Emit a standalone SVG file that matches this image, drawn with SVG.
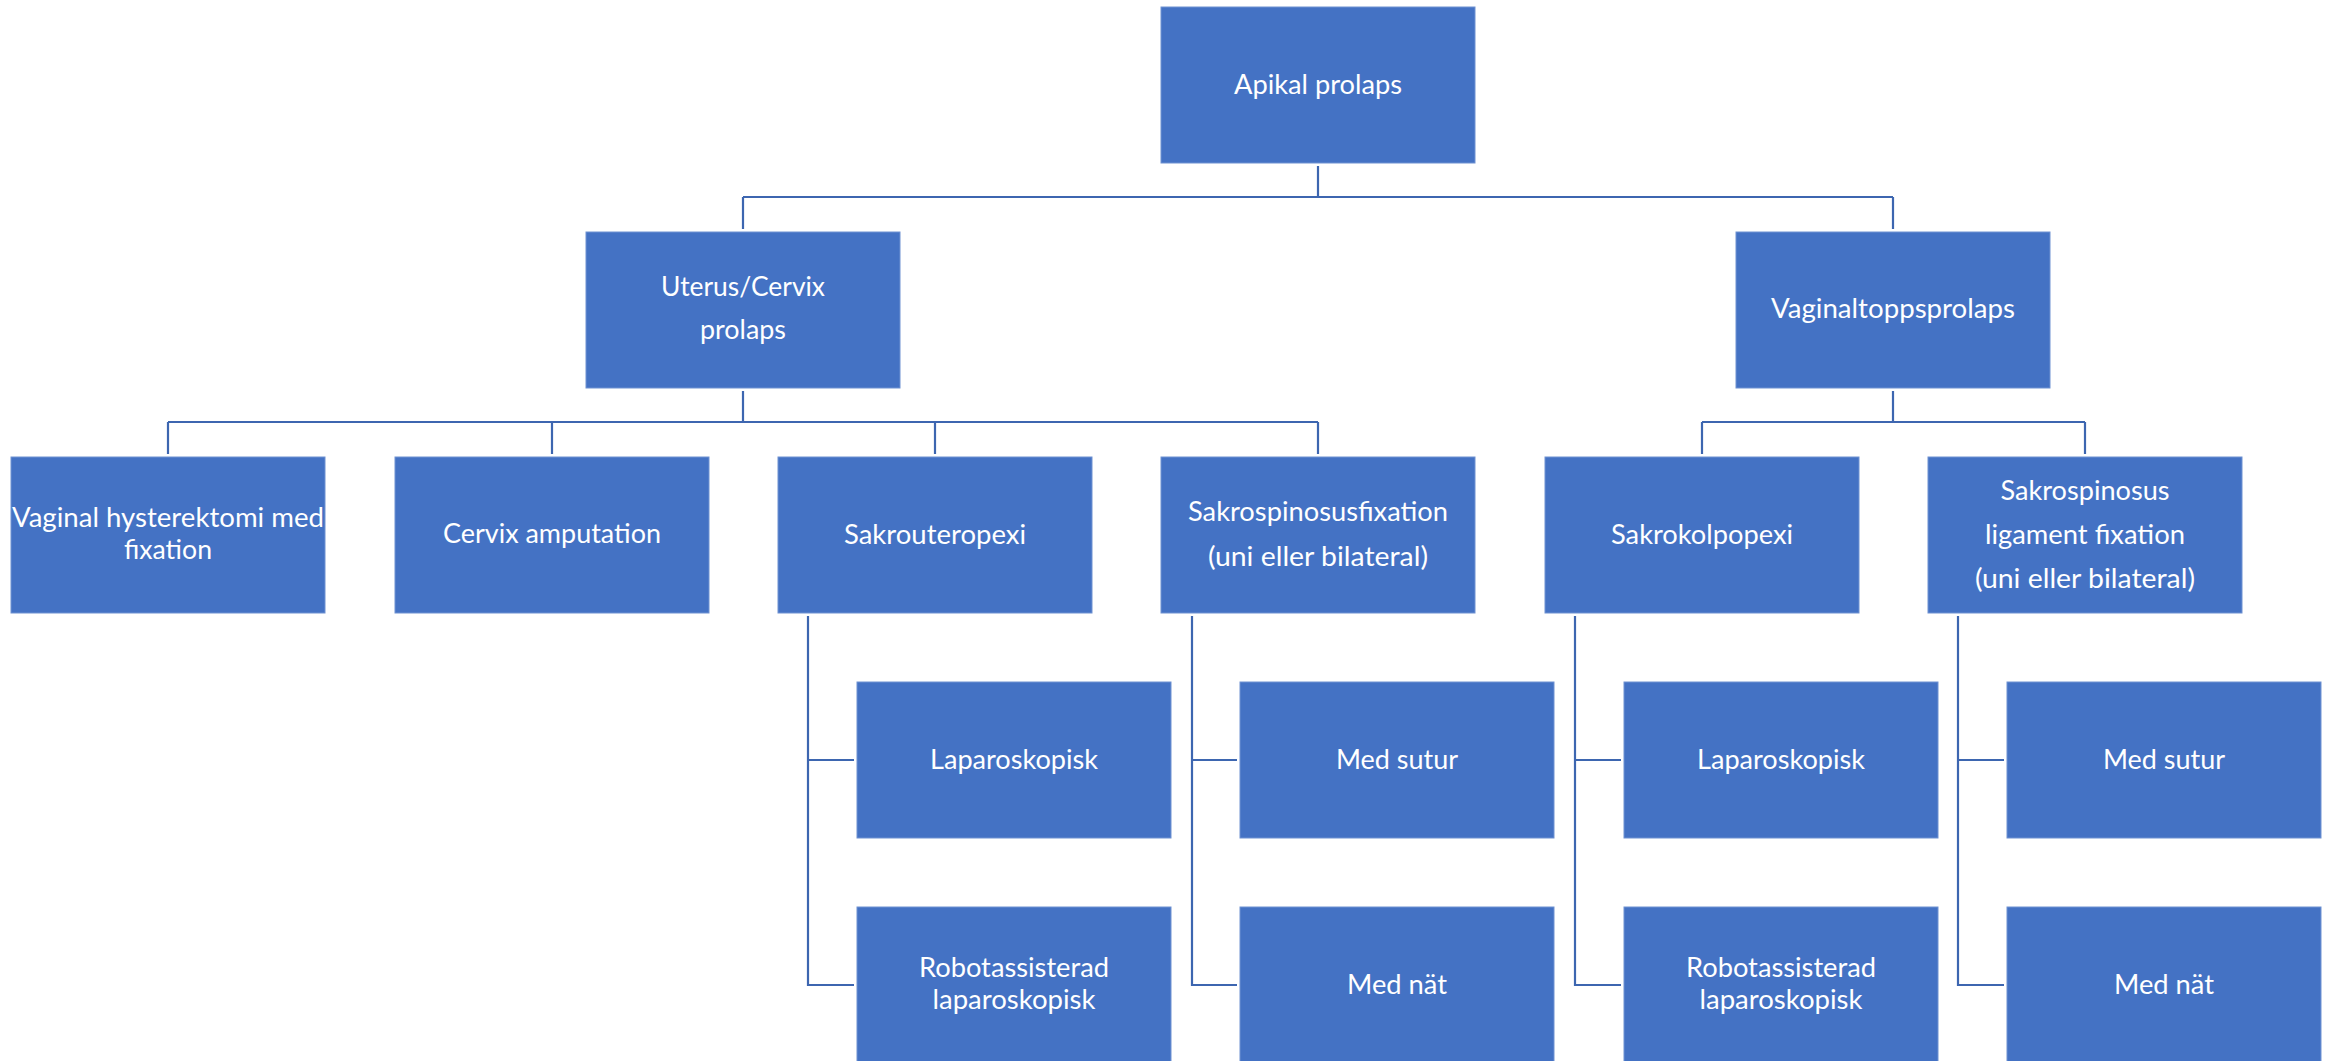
<svg xmlns="http://www.w3.org/2000/svg" width="2326" height="1061" viewBox="0 0 2326 1061">
<style>
.box{fill:#4472C4;stroke:#6f92d2;stroke-width:1}
.t{fill:#ffffff;font-family:Lato,"Open Sans","Liberation Sans",sans-serif;font-size:27px;text-anchor:middle}
.c{fill:none;stroke:#3D66B0;stroke-width:2.2}
</style>
<rect width="2326" height="1061" fill="#ffffff"/>
<g id="connectors">
<path class="c" d="M1318 166V197M743 197H1893M743 197V229M1893 197V229"/>
<path class="c" d="M743 391V422M168 422H1318M168 422V454M552 422V454M935 422V454M1318 422V454"/>
<path class="c" d="M1893 391V422M1702 422H2085M1702 422V454M2085 422V454"/>
<path class="c" d="M808 616V985H854M808 760H854"/>
<path class="c" d="M1192 616V985H1237M1192 760H1237"/>
<path class="c" d="M1575 616V985H1621M1575 760H1621"/>
<path class="c" d="M1958 616V985H2004M1958 760H2004"/>
</g>
<g id="n-apikal"><rect class="box" x="1161" y="7" width="314" height="156"/><text class="t" x="1318" y="94" textLength="168" lengthAdjust="spacingAndGlyphs">Apikal prolaps</text></g>
<g id="n-uterus"><rect class="box" x="586" y="232" width="314" height="156"/><text class="t" x="743" y="296" textLength="164" lengthAdjust="spacingAndGlyphs">Uterus/Cervix</text><text class="t" x="743" y="339" textLength="86" lengthAdjust="spacingAndGlyphs">prolaps</text></g>
<g id="n-vaginaltopp"><rect class="box" x="1736" y="232" width="314" height="156"/><text class="t" x="1893" y="318" textLength="244" lengthAdjust="spacingAndGlyphs">Vaginaltoppsprolaps</text></g>
<g id="n-hyst"><rect class="box" x="11" y="457" width="314" height="156"/><text class="t" x="168" y="527" textLength="312" lengthAdjust="spacingAndGlyphs">Vaginal hysterektomi med</text><text class="t" x="168" y="559" textLength="88" lengthAdjust="spacingAndGlyphs">fixation</text></g>
<g id="n-cervix"><rect class="box" x="395" y="457" width="314" height="156"/><text class="t" x="552" y="543" textLength="218" lengthAdjust="spacingAndGlyphs">Cervix amputation</text></g>
<g id="n-sakrouteropexi"><rect class="box" x="778" y="457" width="314" height="156"/><text class="t" x="935" y="544" textLength="182" lengthAdjust="spacingAndGlyphs">Sakrouteropexi</text></g>
<g id="n-ssfix"><rect class="box" x="1161" y="457" width="314" height="156"/><text class="t" x="1318" y="521" textLength="260" lengthAdjust="spacingAndGlyphs">Sakrospinosusfixation</text><text class="t" x="1318" y="566" textLength="220" lengthAdjust="spacingAndGlyphs">(uni eller bilateral)</text></g>
<g id="n-sakrokolpopexi"><rect class="box" x="1545" y="457" width="314" height="156"/><text class="t" x="1702" y="544" textLength="182" lengthAdjust="spacingAndGlyphs">Sakrokolpopexi</text></g>
<g id="n-sslig"><rect class="box" x="1928" y="457" width="314" height="156"/><text class="t" x="2085" y="500" textLength="169" lengthAdjust="spacingAndGlyphs">Sakrospinosus</text><text class="t" x="2085" y="544" textLength="200" lengthAdjust="spacingAndGlyphs">ligament fixation</text><text class="t" x="2085" y="588" textLength="220" lengthAdjust="spacingAndGlyphs">(uni eller bilateral)</text></g>
<g id="n-lap1"><rect class="box" x="857" y="682" width="314" height="156"/><text class="t" x="1014" y="769" textLength="168" lengthAdjust="spacingAndGlyphs">Laparoskopisk</text></g>
<g id="n-rob1"><rect class="box" x="857" y="907" width="314" height="156"/><text class="t" x="1014" y="977" textLength="190" lengthAdjust="spacingAndGlyphs">Robotassisterad</text><text class="t" x="1014" y="1009" textLength="163" lengthAdjust="spacingAndGlyphs">laparoskopisk</text></g>
<g id="n-sutur1"><rect class="box" x="1240" y="682" width="314" height="156"/><text class="t" x="1397" y="769" textLength="122" lengthAdjust="spacingAndGlyphs">Med sutur</text></g>
<g id="n-nat1"><rect class="box" x="1240" y="907" width="314" height="156"/><text class="t" x="1397" y="994" textLength="100" lengthAdjust="spacingAndGlyphs">Med nät</text></g>
<g id="n-lap2"><rect class="box" x="1624" y="682" width="314" height="156"/><text class="t" x="1781" y="769" textLength="168" lengthAdjust="spacingAndGlyphs">Laparoskopisk</text></g>
<g id="n-rob2"><rect class="box" x="1624" y="907" width="314" height="156"/><text class="t" x="1781" y="977" textLength="190" lengthAdjust="spacingAndGlyphs">Robotassisterad</text><text class="t" x="1781" y="1009" textLength="163" lengthAdjust="spacingAndGlyphs">laparoskopisk</text></g>
<g id="n-sutur2"><rect class="box" x="2007" y="682" width="314" height="156"/><text class="t" x="2164" y="769" textLength="122" lengthAdjust="spacingAndGlyphs">Med sutur</text></g>
<g id="n-nat2"><rect class="box" x="2007" y="907" width="314" height="156"/><text class="t" x="2164" y="994" textLength="100" lengthAdjust="spacingAndGlyphs">Med nät</text></g>
</svg>
